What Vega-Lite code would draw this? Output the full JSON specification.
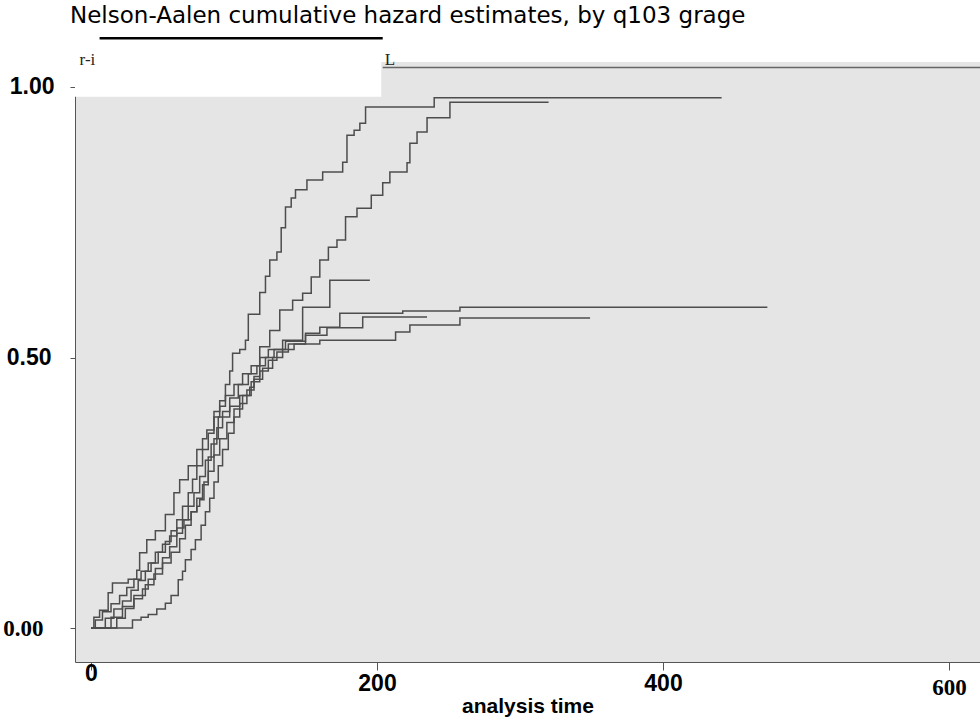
{
  "$schema": "https://vega.github.io/schema/vega-lite/v6.json",
  "width": 905,
  "height": 600,
  "autosize": {"type": "none"},
  "padding": {"left": 75, "top": 62, "right": 0, "bottom": 57},
  "background": "white",
  "title": {
    "text": "Nelson-Aalen cumulative hazard estimates, by q103 grage",
    "anchor": "start",
    "frame": "group",
    "dx": -5,
    "offset": 9,
    "font": "DejaVu Sans",
    "fontSize": 23,
    "fontWeight": "normal",
    "color": "black"
  },
  "config": {
    "view": {"fill": "#e5e5e5", "stroke": null},
    "axis": {"grid": false},
    "axisX": {
      "domainColor": "#555555",
      "tickColor": "#555555",
      "tickSize": 8,
      "labelFont": "Liberation Sans",
      "labelFontSize": 23,
      "labelFontWeight": "bold",
      "labelColor": "black",
      "titleFont": "Liberation Sans",
      "titleFontSize": 21,
      "titleFontWeight": "bold",
      "titleColor": "black",
      "titleBaseline": "top",
      "titleY": 33
    },
    "axisY": {
      "domainColor": "#555555",
      "tickColor": "#555555",
      "tickSize": 5,
      "labelFont": "Liberation Sans",
      "labelFontSize": 23,
      "labelFontWeight": "bold",
      "labelColor": "black"
    }
  },
  "datasets": {
    "curves": [
      {"g": "1", "t": 0, "v": 0}, {"g": "1", "t": 2, "v": 0.02}, {"g": "1", "t": 6, "v": 0.033}, {"g": "1", "t": 12, "v": 0.065}, {"g": "1", "t": 15, "v": 0.083}, {"g": "1", "t": 26, "v": 0.09}, {"g": "1", "t": 32, "v": 0.107}, {"g": "1", "t": 34, "v": 0.139}, {"g": "1", "t": 39, "v": 0.163}, {"g": "1", "t": 45, "v": 0.18}, {"g": "1", "t": 52, "v": 0.21}, {"g": "1", "t": 58, "v": 0.25}, {"g": "1", "t": 62, "v": 0.274}, {"g": "1", "t": 68, "v": 0.3}, {"g": "1", "t": 74, "v": 0.33}, {"g": "1", "t": 78, "v": 0.35}, {"g": "1", "t": 81, "v": 0.366}, {"g": "1", "t": 86, "v": 0.4}, {"g": "1", "t": 90, "v": 0.42}, {"g": "1", "t": 94, "v": 0.45}, {"g": "1", "t": 97, "v": 0.475}, {"g": "1", "t": 99, "v": 0.508}, {"g": "1", "t": 104, "v": 0.515}, {"g": "1", "t": 108, "v": 0.532}, {"g": "1", "t": 110, "v": 0.58}, {"g": "1", "t": 118, "v": 0.62}, {"g": "1", "t": 122, "v": 0.65}, {"g": "1", "t": 125, "v": 0.68}, {"g": "1", "t": 130, "v": 0.695}, {"g": "1", "t": 133, "v": 0.74}, {"g": "1", "t": 136, "v": 0.778}, {"g": "1", "t": 140, "v": 0.795}, {"g": "1", "t": 143, "v": 0.81}, {"g": "1", "t": 151, "v": 0.828}, {"g": "1", "t": 162, "v": 0.843}, {"g": "1", "t": 176, "v": 0.861}, {"g": "1", "t": 179, "v": 0.911}, {"g": "1", "t": 184, "v": 0.92}, {"g": "1", "t": 188, "v": 0.933}, {"g": "1", "t": 192, "v": 0.963}, {"g": "1", "t": 240, "v": 0.98}, {"g": "1", "t": 441, "v": 0.98},
      {"g": "2", "t": 0, "v": 0}, {"g": "2", "t": 3, "v": 0.015}, {"g": "2", "t": 8, "v": 0.03}, {"g": "2", "t": 14, "v": 0.045}, {"g": "2", "t": 20, "v": 0.06}, {"g": "2", "t": 25, "v": 0.075}, {"g": "2", "t": 30, "v": 0.09}, {"g": "2", "t": 35, "v": 0.105}, {"g": "2", "t": 40, "v": 0.12}, {"g": "2", "t": 45, "v": 0.14}, {"g": "2", "t": 50, "v": 0.155}, {"g": "2", "t": 55, "v": 0.17}, {"g": "2", "t": 60, "v": 0.185}, {"g": "2", "t": 65, "v": 0.2}, {"g": "2", "t": 70, "v": 0.215}, {"g": "2", "t": 74, "v": 0.225}, {"g": "2", "t": 76, "v": 0.237}, {"g": "2", "t": 79, "v": 0.27}, {"g": "2", "t": 82, "v": 0.316}, {"g": "2", "t": 86, "v": 0.35}, {"g": "2", "t": 89, "v": 0.39}, {"g": "2", "t": 97, "v": 0.41}, {"g": "2", "t": 104, "v": 0.43}, {"g": "2", "t": 111, "v": 0.445}, {"g": "2", "t": 114, "v": 0.465}, {"g": "2", "t": 118, "v": 0.52}, {"g": "2", "t": 125, "v": 0.55}, {"g": "2", "t": 132, "v": 0.588}, {"g": "2", "t": 141, "v": 0.606}, {"g": "2", "t": 148, "v": 0.619}, {"g": "2", "t": 154, "v": 0.649}, {"g": "2", "t": 160, "v": 0.68}, {"g": "2", "t": 166, "v": 0.704}, {"g": "2", "t": 172, "v": 0.717}, {"g": "2", "t": 178, "v": 0.76}, {"g": "2", "t": 186, "v": 0.776}, {"g": "2", "t": 196, "v": 0.8}, {"g": "2", "t": 204, "v": 0.823}, {"g": "2", "t": 209, "v": 0.843}, {"g": "2", "t": 221, "v": 0.86}, {"g": "2", "t": 223, "v": 0.896}, {"g": "2", "t": 228, "v": 0.917}, {"g": "2", "t": 235, "v": 0.943}, {"g": "2", "t": 251, "v": 0.972}, {"g": "2", "t": 320, "v": 0.972},
      {"g": "3", "t": 0, "v": 0}, {"g": "3", "t": 10, "v": 0.018}, {"g": "3", "t": 16, "v": 0.035}, {"g": "3", "t": 22, "v": 0.05}, {"g": "3", "t": 28, "v": 0.07}, {"g": "3", "t": 33, "v": 0.088}, {"g": "3", "t": 38, "v": 0.105}, {"g": "3", "t": 42, "v": 0.12}, {"g": "3", "t": 47, "v": 0.14}, {"g": "3", "t": 52, "v": 0.16}, {"g": "3", "t": 56, "v": 0.18}, {"g": "3", "t": 60, "v": 0.2}, {"g": "3", "t": 64, "v": 0.225}, {"g": "3", "t": 68, "v": 0.25}, {"g": "3", "t": 71, "v": 0.275}, {"g": "3", "t": 74, "v": 0.3}, {"g": "3", "t": 78, "v": 0.33}, {"g": "3", "t": 82, "v": 0.36}, {"g": "3", "t": 86, "v": 0.39}, {"g": "3", "t": 90, "v": 0.41}, {"g": "3", "t": 94, "v": 0.43}, {"g": "3", "t": 100, "v": 0.45}, {"g": "3", "t": 106, "v": 0.47}, {"g": "3", "t": 112, "v": 0.485}, {"g": "3", "t": 118, "v": 0.5}, {"g": "3", "t": 124, "v": 0.515}, {"g": "3", "t": 134, "v": 0.532}, {"g": "3", "t": 148, "v": 0.593}, {"g": "3", "t": 167, "v": 0.643}, {"g": "3", "t": 195, "v": 0.643},
      {"g": "4", "t": 0, "v": 0}, {"g": "4", "t": 18, "v": 0.018}, {"g": "4", "t": 24, "v": 0.036}, {"g": "4", "t": 30, "v": 0.054}, {"g": "4", "t": 36, "v": 0.072}, {"g": "4", "t": 40, "v": 0.09}, {"g": "4", "t": 45, "v": 0.11}, {"g": "4", "t": 50, "v": 0.13}, {"g": "4", "t": 55, "v": 0.15}, {"g": "4", "t": 60, "v": 0.175}, {"g": "4", "t": 64, "v": 0.2}, {"g": "4", "t": 68, "v": 0.225}, {"g": "4", "t": 72, "v": 0.25}, {"g": "4", "t": 76, "v": 0.28}, {"g": "4", "t": 80, "v": 0.31}, {"g": "4", "t": 84, "v": 0.34}, {"g": "4", "t": 88, "v": 0.37}, {"g": "4", "t": 92, "v": 0.4}, {"g": "4", "t": 97, "v": 0.425}, {"g": "4", "t": 103, "v": 0.45}, {"g": "4", "t": 110, "v": 0.47}, {"g": "4", "t": 116, "v": 0.485}, {"g": "4", "t": 122, "v": 0.5}, {"g": "4", "t": 128, "v": 0.515}, {"g": "4", "t": 136, "v": 0.53}, {"g": "4", "t": 150, "v": 0.545}, {"g": "4", "t": 160, "v": 0.556}, {"g": "4", "t": 174, "v": 0.582}, {"g": "4", "t": 218, "v": 0.586}, {"g": "4", "t": 258, "v": 0.593}, {"g": "4", "t": 473, "v": 0.593},
      {"g": "5", "t": 0, "v": 0}, {"g": "5", "t": 14, "v": 0.02}, {"g": "5", "t": 22, "v": 0.04}, {"g": "5", "t": 30, "v": 0.06}, {"g": "5", "t": 38, "v": 0.08}, {"g": "5", "t": 44, "v": 0.1}, {"g": "5", "t": 50, "v": 0.12}, {"g": "5", "t": 56, "v": 0.14}, {"g": "5", "t": 62, "v": 0.165}, {"g": "5", "t": 66, "v": 0.19}, {"g": "5", "t": 70, "v": 0.215}, {"g": "5", "t": 74, "v": 0.24}, {"g": "5", "t": 78, "v": 0.265}, {"g": "5", "t": 82, "v": 0.29}, {"g": "5", "t": 86, "v": 0.32}, {"g": "5", "t": 90, "v": 0.35}, {"g": "5", "t": 95, "v": 0.38}, {"g": "5", "t": 100, "v": 0.405}, {"g": "5", "t": 106, "v": 0.43}, {"g": "5", "t": 112, "v": 0.455}, {"g": "5", "t": 118, "v": 0.475}, {"g": "5", "t": 124, "v": 0.495}, {"g": "5", "t": 130, "v": 0.51}, {"g": "5", "t": 138, "v": 0.525}, {"g": "5", "t": 150, "v": 0.541}, {"g": "5", "t": 165, "v": 0.555}, {"g": "5", "t": 190, "v": 0.575}, {"g": "5", "t": 235, "v": 0.575},
      {"g": "6", "t": 0, "v": 0}, {"g": "6", "t": 29, "v": 0.015}, {"g": "6", "t": 35, "v": 0.02}, {"g": "6", "t": 40, "v": 0.025}, {"g": "6", "t": 46, "v": 0.035}, {"g": "6", "t": 52, "v": 0.046}, {"g": "6", "t": 56, "v": 0.06}, {"g": "6", "t": 61, "v": 0.089}, {"g": "6", "t": 64, "v": 0.105}, {"g": "6", "t": 66, "v": 0.126}, {"g": "6", "t": 70, "v": 0.145}, {"g": "6", "t": 73, "v": 0.163}, {"g": "6", "t": 77, "v": 0.19}, {"g": "6", "t": 80, "v": 0.215}, {"g": "6", "t": 83, "v": 0.24}, {"g": "6", "t": 86, "v": 0.27}, {"g": "6", "t": 89, "v": 0.3}, {"g": "6", "t": 92, "v": 0.33}, {"g": "6", "t": 96, "v": 0.36}, {"g": "6", "t": 100, "v": 0.39}, {"g": "6", "t": 104, "v": 0.415}, {"g": "6", "t": 109, "v": 0.44}, {"g": "6", "t": 114, "v": 0.46}, {"g": "6", "t": 120, "v": 0.48}, {"g": "6", "t": 127, "v": 0.5}, {"g": "6", "t": 134, "v": 0.515}, {"g": "6", "t": 142, "v": 0.525}, {"g": "6", "t": 160, "v": 0.532}, {"g": "6", "t": 213, "v": 0.547}, {"g": "6", "t": 223, "v": 0.56}, {"g": "6", "t": 258, "v": 0.573}, {"g": "6", "t": 349, "v": 0.573}
    ],
    "patch": [{"t": -11.2, "t2": 203, "v": 0.982, "v2": 1.0462}],
    "scanline": [{"t": 6, "t2": 204, "v": 1.09}],
    "frameline": [{"t": 204, "t2": 621.7, "v": 1.036}],
    "marks": [{"t": -2.5, "v": 1.05, "label": "r-i"}, {"t": 209, "v": 1.05, "label": "L"}]
  },
  "layer": [
    {
      "data": {"name": "curves"},
      "mark": {"type": "line", "interpolate": "step-after", "stroke": "#4d4d4d", "strokeWidth": 1.5},
      "encoding": {
        "x": {"field": "t", "type": "quantitative", "scale": {"domain": [-11.2, 621.7], "nice": false, "zero": false}, "axis": {"values": [0, 200, 400, 600], "title": "analysis time", "labelFont": {"condition": {"test": "datum.value == 600", "value": "Liberation Serif"}, "value": "Liberation Sans"}, "labelPadding": {"condition": [{"test": "datum.value == 0", "value": -8}, {"test": "datum.value == 600", "value": 6}], "value": 2}}},
        "y": {"field": "v", "type": "quantitative", "scale": {"domain": [-0.0628, 1.0462], "nice": false, "zero": false}, "axis": {"values": [0, 0.5, 1], "format": ".2f", "title": null, "labelFont": {"condition": {"test": "datum.value == 0", "value": "Liberation Serif"}, "value": "Liberation Sans"}, "labelPadding": {"condition": [{"test": "datum.value == 0", "value": 27}, {"test": "datum.value == 0.5", "value": 19}], "value": 16}}},
        "detail": {"field": "g", "type": "nominal"}
      }
    },
    {
      "data": {"name": "patch"},
      "mark": {"type": "rect", "fill": "white"},
      "encoding": {
        "x": {"field": "t", "type": "quantitative"},
        "x2": {"field": "t2"},
        "y": {"field": "v", "type": "quantitative"},
        "y2": {"field": "v2"}
      }
    },
    {
      "data": {"name": "scanline"},
      "mark": {"type": "rule", "color": "black", "strokeWidth": 2.5, "clip": false},
      "encoding": {
        "x": {"field": "t", "type": "quantitative"},
        "x2": {"field": "t2"},
        "y": {"field": "v", "type": "quantitative"}
      }
    },
    {
      "data": {"name": "frameline"},
      "mark": {"type": "rule", "color": "#666666", "strokeWidth": 1.5},
      "encoding": {
        "x": {"field": "t", "type": "quantitative"},
        "x2": {"field": "t2"},
        "y": {"field": "v", "type": "quantitative"}
      }
    },
    {
      "data": {"name": "marks"},
      "mark": {"type": "text", "font": "Liberation Serif", "fontSize": 17, "color": "#222222", "align": "center", "baseline": "middle"},
      "encoding": {
        "x": {"field": "t", "type": "quantitative"},
        "y": {"field": "v", "type": "quantitative"},
        "text": {"field": "label"}
      }
    }
  ]
}
